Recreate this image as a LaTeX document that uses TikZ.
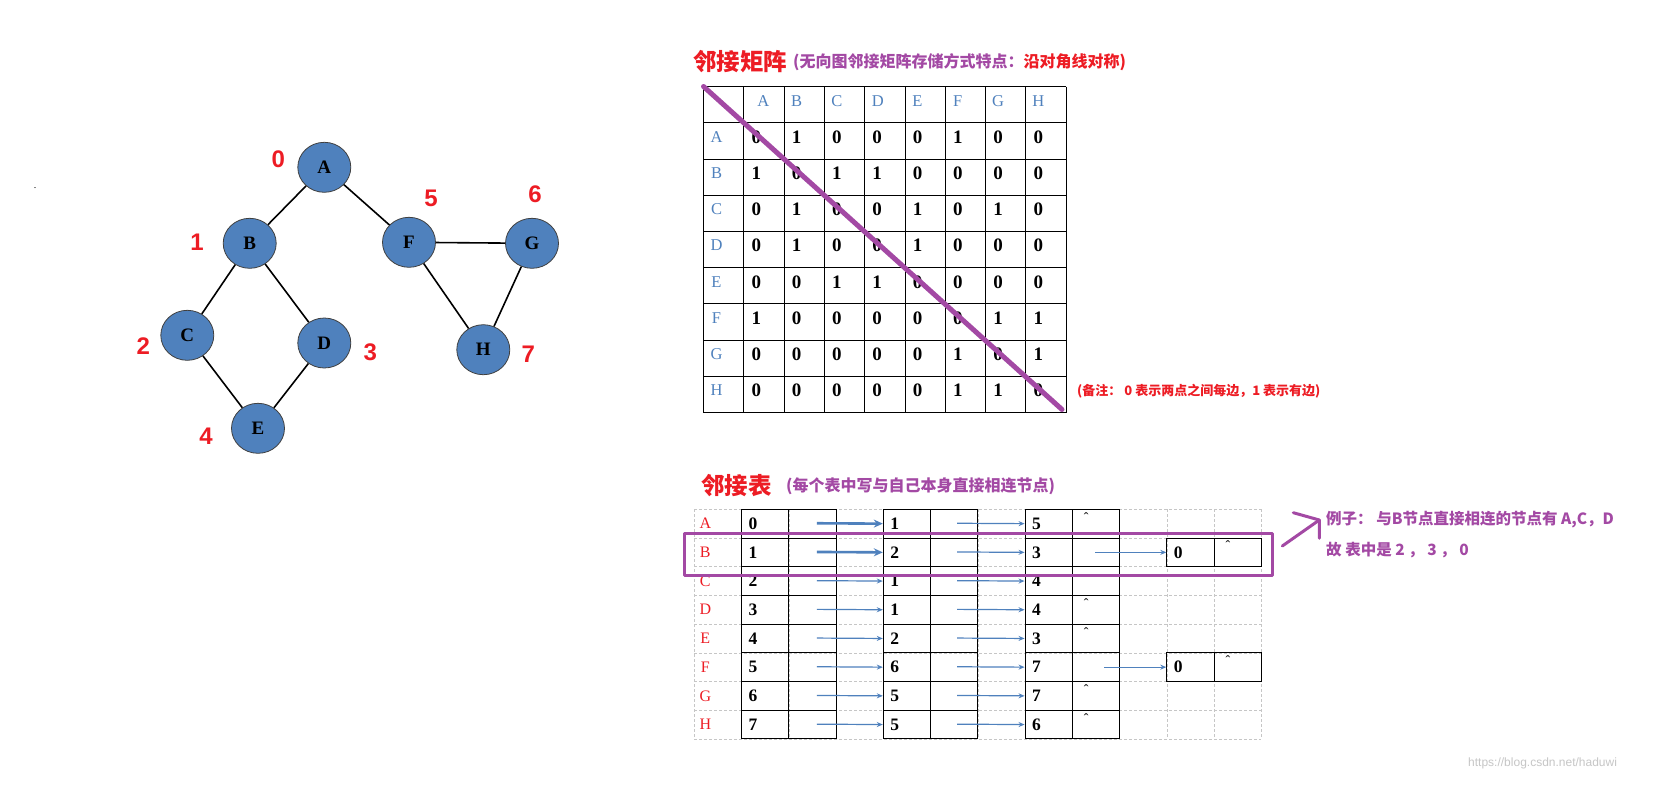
\documentclass[tikz,border=0pt]{standalone}
\usepackage{fontspec}
\setmainfont{Liberation Serif}
\newfontfamily\cjk{Noto Sans CJK SC}
\newfontfamily\sansf{Liberation Sans}
\usetikzlibrary{shapes.geometric,arrows.meta}
\definecolor{myred}{RGB}{237,28,36}
\definecolor{mypurple}{RGB}{163,73,164}
\definecolor{myblue}{RGB}{79,129,189}
\newcommand{\myfs}[1]{\fontsize{#1}{#1}\selectfont}
\begin{document}
\begin{tikzpicture}[x=1pt,y=-1pt,
  gnode/.style={ellipse, draw=black!75, line width=0.8pt, fill=myblue, minimum width=53pt, minimum height=50pt, inner sep=0pt, font=\bfseries\myfs{19}},
  gedge/.style={line width=1.6pt},
  gnum/.style={text=myred, font=\sansf\bfseries\myfs{24}, inner sep=0pt},
  mline/.style={line width=1pt, black},
  mhead/.style={text=myblue, font=\myfs{16.5}, inner sep=0pt},
  mval/.style={font=\bfseries\myfs{19}, inner sep=0pt},
  lab/.style={text=myred, font=\myfs{16}, inner sep=0pt},
  lval/.style={font=\bfseries\myfs{17.5}, inner sep=0pt},
  lcell/.style={draw, line width=1pt, minimum width=47.25pt, minimum height=28.7pt, inner sep=0pt},
  dgrid/.style={gray!45, line width=0.6pt, dash pattern=on 3pt off 2pt},
  arr/.style={myblue, line width=1.2pt, -{Stealth[length=6pt,width=5pt]}},
  thickarr/.style={myblue, line width=2.6pt, -{Stealth[length=9pt,width=8pt]}},
  hl/.style={mypurple, line width=3pt, line join=round, line cap=round},
  diag/.style={mypurple, line width=5pt, line cap=round},
  ttl/.style={text=myred, font=\cjk\bfseries\myfs{23.5}, inner sep=0pt, anchor=west},
  sub/.style={text=mypurple, font=\cjk\bfseries\myfs{16}, inner sep=0pt, anchor=west},
  caret/.style={font=\myfs{14}, inner sep=0pt, anchor=north}
]
\fill[white] (0,0) rectangle (1673,785);
\useasboundingbox (0,0) rectangle (1673,785);

% ---------------- graph ----------------
\node[font=\myfs{10}, inner sep=0pt] (dot) at (35,188) {.};
\node[gnode] (A) at (324.3,167.3) {A};
\node[gnode] (B) at (249.7,243.3) {B};
\node[gnode] (F) at (409,242.3) {F};
\node[gnode] (G) at (532,243.3) {G};
\node[gnode] (C) at (187.3,335.3) {C};
\node[gnode] (D) at (324.3,343) {D};
\node[gnode] (H) at (483.3,349.7) {H};
\node[gnode] (E) at (258,428.3) {E};
\draw[gedge] (A) -- (B);
\draw[gedge] (A) -- (F);
\draw[gedge] (B) -- (C);
\draw[gedge] (B) -- (D);
\draw[gedge] (C) -- (E);
\draw[gedge] (D) -- (E);
\draw[gedge] (F) -- (G);
\draw[gedge] (F) -- (H);
\draw[gedge] (G) -- (H);
\node[gnum] (n0) at (278.3,159) {0};
\node[gnum] (n1) at (197,242.3) {1};
\node[gnum] (n2) at (143.3,346) {2};
\node[gnum] (n3) at (370.3,352.3) {3};
\node[gnum] (n4) at (206,436) {4};
\node[gnum] (n5) at (431,198.3) {5};
\node[gnum] (n6) at (535,194.5) {6};
\node[gnum] (n7) at (528.3,354.3) {7};

% ---------------- adjacency matrix ----------------
\def\mx{703.5}\def\my{86.7}\def\mw{40.3}\def\mh{36.2}
\node[ttl] (t1) at (693,61.5) {邻接矩阵};
\node[sub] (s1) at (793,62) {(无向图邻接矩阵存储方式特点：\textcolor{myred}{沿对角线对称)}};
\foreach \i in {0,...,9} {
  \draw[mline] ({\mx+\i*\mw},\my) -- ({\mx+\i*\mw},{\my+9*\mh});
  \draw[mline] (\mx,{\my+\i*\mh}) -- ({\mx+9*\mw},{\my+\i*\mh});
}
\foreach \l/\o [count=\c] in {A/19.6,B/12.5,C/12.5,D/13,E/12.5,F/12.5,G/12.5,H/12.5} {
  \node[mhead] (mc\l) at ({\mx+\c*\mw+\o},{\my+0.5*\mh-4}) {\l};
  \node[mhead] (mr\l) at ({\mx+13},{\my+(\c+0.5)*\mh-4}) {\l};
}
\foreach \rowvals [count=\r] in {{0,1,0,0,0,1,0,0},{1,0,1,1,0,0,0,0},{0,1,0,0,1,0,1,0},{0,1,0,0,1,0,0,0},{0,0,1,1,0,0,0,0},{1,0,0,0,0,0,1,1},{0,0,0,0,0,1,0,1},{0,0,0,0,0,1,1,0}} {
  \foreach \v [count=\c] in \rowvals {
    \node[mval] (m\r-\c) at ({\mx+\c*\mw+12.5},{\my+(\r+0.5)*\mh-4}) {\v};
  }
}
\coordinate (mtl) at (\mx,86.5);
\coordinate (mbr) at (1062,409.5);
\draw[diag] (mtl) -- (mbr);
\node[sub, text=myred, font=\cjk\bfseries\myfs{13}] (note) at (1077,391.5) {(备注：\ 0 表示两点之间每边，1 表示有边)};

% ---------------- adjacency list ----------------
\def\ax{694.3}\def\ay{509.3}\def\aw{47.25}\def\ah{28.7}
\node[ttl] (t2) at (701,486) {邻接表};
\node[sub] (s2) at (786,486) {(每个表中写与自己本身直接相连节点)};
\foreach \i in {0,...,12} {
  \draw[dgrid] ({\ax+\i*\aw},\ay) -- ({\ax+\i*\aw},{\ay+8*\ah});
}
\foreach \j in {0,...,8} {
  \draw[dgrid] (\ax,{\ay+\j*\ah}) -- ({\ax+12*\aw},{\ay+\j*\ah});
}
\foreach \l/\vals/\term [count=\r from 0] in {A/{0,1,5}/8,B/{1,2,3,0}/11,C/{2,1,4}/0,D/{3,1,4}/8,E/{4,2,3}/8,F/{5,6,7,0}/11,G/{6,5,7}/8,H/{7,5,6}/8} {
  \node[lab] (l\l) at ({\ax+11},{\ay+(\r+0.5)*\ah}) {\l};
  \foreach \v [count=\k] in \vals {
    \pgfmathtruncatemacro\cv{3*\k-2}
    \pgfmathtruncatemacro\cp{3*\k-1}
    \node[lcell] (c\r-\cv) at ({\ax+(\cv+0.5)*\aw},{\ay+(\r+0.5)*\ah}) {};
    \node[lcell] (p\r-\cp) at ({\ax+(\cp+0.5)*\aw},{\ay+(\r+0.5)*\ah}) {};
    \node[lval] (v\r-\cv) at ({\ax+\cv*\aw+11.5},{\ay+(\r+0.5)*\ah}) {\v};
  }
  \ifnum\term>0
    \node[caret] (e\r) at ({\ax+\term*\aw+14},{\ay+\r*\ah+3}) {ˆ};
  \fi
}
\foreach \r in {0,...,7} {
  \coordinate (s\r-1) at ({\ax+2*\aw+28},{\ay+(\r+0.5)*\ah-0.4});
  \coordinate (s\r-2) at ({\ax+5*\aw+26.5},{\ay+(\r+0.5)*\ah-0.4});
  \ifnum\r<2
    \draw[thickarr] (s\r-1) -- (c\r-4.west);
  \else
    \draw[arr] (s\r-1) -- (c\r-4.west);
  \fi
  \draw[arr] (s\r-2) -- (c\r-7.west);
}
\coordinate (s1-3) at ({\ax+8*\aw+23},{\ay+1.5*\ah});
\draw[arr] (s1-3) -- (c1-10.west);
\coordinate (s5-3) at ({\ax+8*\aw+32},{\ay+5.5*\ah});
\draw[arr] (s5-3) -- (c5-10.west);

% highlight and example
\draw[hl] (684,533.5) rectangle (1272,575);
\coordinate (pa0) at (1282.3,546);
\coordinate (pa1) at (1319.3,520);
\coordinate (pa2) at (1293.3,512.7);
\coordinate (pa3) at (1319.3,538.3);
\draw[hl] (pa0) -- (pa1);
\draw[hl] (pa2) -- (pa1) -- (pa3);
\node[sub, font=\cjk\bfseries\myfs{15.5}] (ex1) at (1326,520) {例子：\ 与B节点直接相连的节点有 A,C，D};
\node[sub, font=\cjk\bfseries\myfs{15.5}] (ex2) at (1326,550) {故 表中是 2 ， 3 ， 0};

\node[anchor=west, inner sep=0pt, text=gray!45, font=\sansf\myfs{12}] (wm) at (1468,763) {https://blog.csdn.net/haduwi};
\end{tikzpicture}
\end{document}
